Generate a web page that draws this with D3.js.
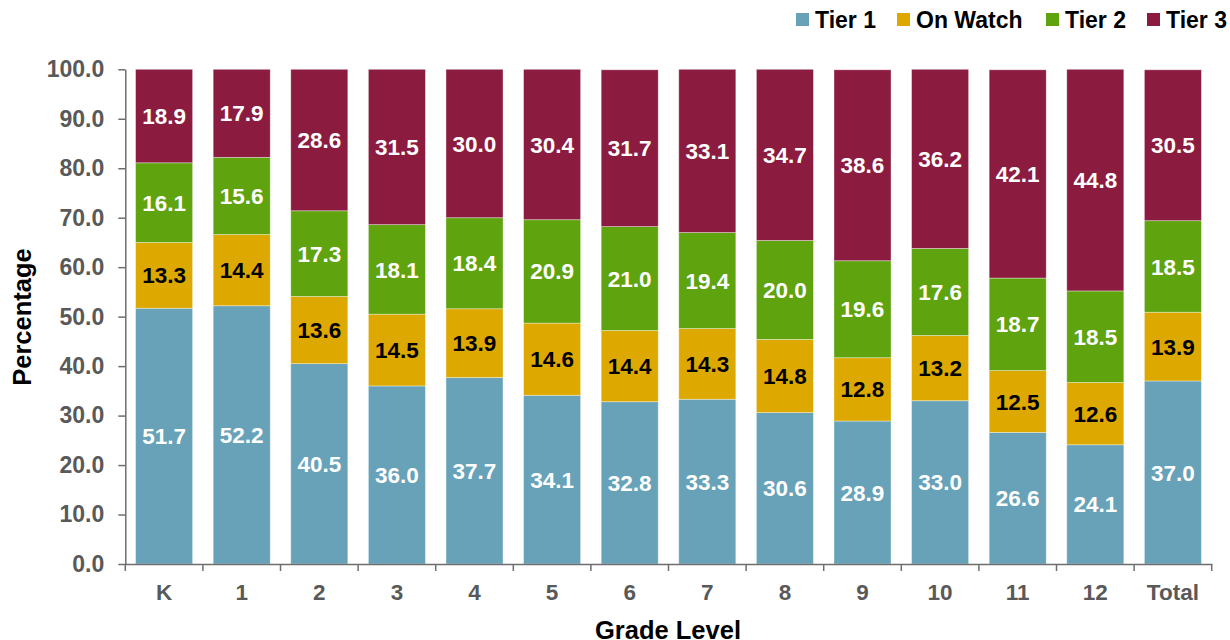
<!DOCTYPE html>
<html>
<head>
<meta charset="utf-8">
<script src="https://cdn.jsdelivr.net/npm/d3@7"></script>
<style>
  html, body { margin: 0; padding: 0; background: #fff; }
  svg { display: block; font-family: Arial, "Liberation Sans", sans-serif; font-weight: bold; }
</style>
</head>
<body>
<svg id="chart" width="1230" height="640"></svg>
<script>
// Grade levels on the x axis
const grades = ["K", "1", "2", "3", "4", "5", "6", "7", "8", "9", "10", "11", "12", "Total"];

// Percentage of students in each tier, per grade
const tier1   = [51.7, 52.2, 40.5, 36.0, 37.7, 34.1, 32.8, 33.3, 30.6, 28.9, 33.0, 26.6, 24.1, 37.0];
const onWatch = [13.3, 14.4, 13.6, 14.5, 13.9, 14.6, 14.4, 14.3, 14.8, 12.8, 13.2, 12.5, 12.6, 13.9];
const tier2   = [16.1, 15.6, 17.3, 18.1, 18.4, 20.9, 21.0, 19.4, 20.0, 19.6, 17.6, 18.7, 18.5, 18.5];
const tier3   = [18.9, 17.9, 28.6, 31.5, 30.0, 30.4, 31.7, 33.1, 34.7, 38.6, 36.2, 42.1, 44.8, 30.5];

const seriesNames = ["Tier 1", "On Watch", "Tier 2", "Tier 3"];
const seriesValues = [tier1, onWatch, tier2, tier3];
const yTicks = [0, 10, 20, 30, 40, 50, 60, 70, 80, 90, 100];

const colors = ["#67A2B9", "#DDA900", "#5FA30F", "#8B1C40"];
const labelColors = ["#ffffff", "#000000", "#ffffff", "#ffffff"];

const svg = d3.select("#chart");
const plotLeft = 125.3, plotRight = 1211.7, plotTop = 69.3, plotBottom = 564;

const x = d3.scaleBand().domain(grades).range([plotLeft, plotRight])
  .paddingInner(0.265).paddingOuter(0.1325);
const y = d3.scaleLinear().domain([0, 100]).range([plotBottom, plotTop]);

// Build rows for d3.stack
const rows = grades.map((g, i) => {
  const r = { grade: g };
  seriesNames.forEach((s, k) => { r[s] = seriesValues[k][i]; });
  return r;
});
const stacked = d3.stack().keys(seriesNames)(rows);

// Bars
const layers = svg.append("g").selectAll("g").data(stacked).join("g")
  .attr("fill", (d, k) => colors[k]);

layers.selectAll("rect").data(d => d).join("rect")
  .attr("x", d => x(d.data.grade))
  .attr("width", x.bandwidth())
  .attr("y", d => y(Math.min(d[1], 100)))
  .attr("height", d => y(d[0]) - y(Math.min(d[1], 100)))
  .attr("stroke", "rgba(255,255,255,0.45)")
  .attr("stroke-width", 0.8);

// Value labels centred in each segment
layers.each(function (layer, k) {
  d3.select(this).selectAll("text").data(layer).join("text")
    .attr("x", d => x(d.data.grade) + x.bandwidth() / 2)
    .attr("y", d => y((d[0] + Math.min(d[1], 100)) / 2))
    .attr("dy", "0.36em")
    .attr("text-anchor", "middle")
    .attr("font-size", 22.5)
    .attr("fill", labelColors[k])
    .text(d => d.data[layer.key].toFixed(1));
});

// Y axis
const axisColor = "#6e6e6e";
const yAxis = svg.append("g").attr("transform", `translate(${plotLeft},0)`)
  .call(d3.axisLeft(y).tickValues(yTicks).tickFormat(d3.format(".1f"))
    .tickSize(7).tickPadding(14).tickSizeOuter(0));
yAxis.select(".domain").attr("stroke", axisColor).attr("stroke-width", 1.5);
yAxis.selectAll(".tick line").attr("stroke", axisColor).attr("stroke-width", 1.5);
yAxis.selectAll(".tick text").attr("fill", "#595959").attr("font-size", 23)
  .attr("font-family", "Arial, 'Liberation Sans', sans-serif").attr("font-weight", "bold");

// X axis with tick marks between categories
const xAxis = svg.append("g").attr("transform", `translate(0,${plotBottom})`)
  .call(d3.axisBottom(x).tickSize(0).tickPadding(20));
xAxis.select(".domain").attr("stroke", axisColor).attr("stroke-width", 1.5);
xAxis.selectAll(".tick text").attr("fill", "#595959").attr("font-size", 22.5)
  .attr("font-family", "Arial, 'Liberation Sans', sans-serif").attr("font-weight", "bold");

const half = x.step() * x.paddingInner() / 2;
const boundaries = grades.map(g => x(g) - half).concat([x(grades[grades.length - 1]) + x.bandwidth() + half]);
xAxis.selectAll("line.sep").data(boundaries).join("line")
  .attr("class", "sep")
  .attr("x1", d => d).attr("x2", d => d)
  .attr("y1", 0).attr("y2", 7)
  .attr("stroke", axisColor).attr("stroke-width", 1.5);

// Axis titles
svg.append("text")
  .attr("x", 668).attr("y", 630).attr("dy", "0.36em")
  .attr("text-anchor", "middle").attr("font-size", 25.5).attr("fill", "#000")
  .text("Grade Level");
svg.append("text")
  .attr("transform", `translate(22,317) rotate(-90)`)
  .attr("dy", "0.36em")
  .attr("text-anchor", "middle").attr("font-size", 25.5).attr("fill", "#000")
  .text("Percentage");

// Legend
const legendX = [796, 897, 1046, 1147];
const legend = svg.append("g").selectAll("g").data(seriesNames).join("g")
  .attr("transform", (d, k) => `translate(${legendX[k]},13)`);
legend.append("rect").attr("width", 13).attr("height", 13)
  .attr("fill", (d, k) => colors[k]);
legend.append("text").attr("x", 19).attr("y", 7).attr("dy", "0.36em")
  .attr("font-size", 23).attr("fill", "#000").text(d => d);
</script>
</body>
</html>
